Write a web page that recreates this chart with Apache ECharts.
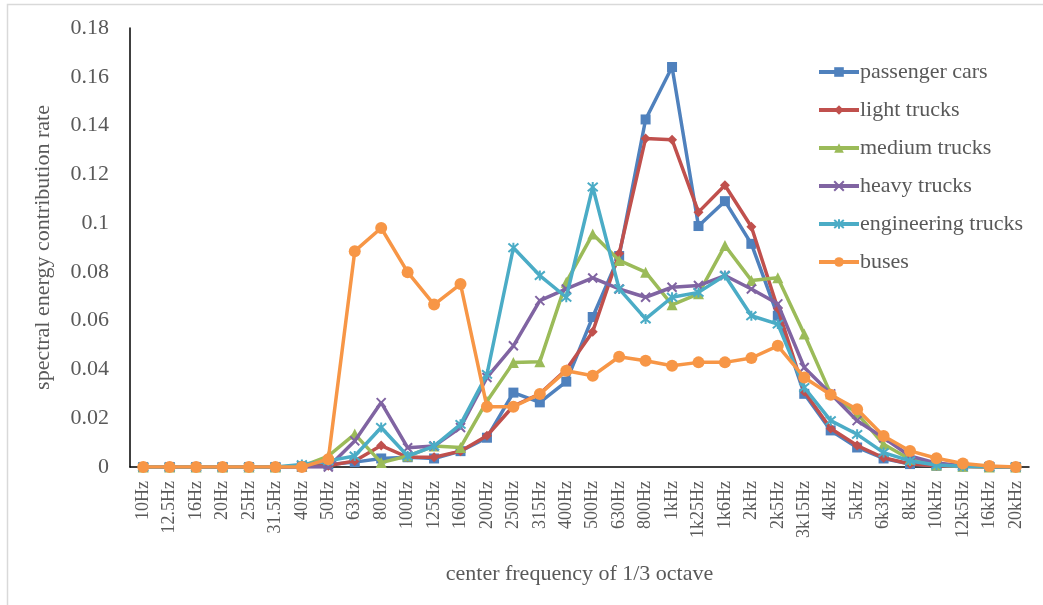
<!DOCTYPE html>
<html>
<head>
<meta charset="utf-8">
<script src="https://cdn.jsdelivr.net/npm/echarts@6/dist/echarts.min.js"></script>
<style>
html,body{margin:0;padding:0;background:#fff;}
#chart{width:1043px;height:605px;}
</style>
</head>
<body>
<div id="chart"></div>
<script>
var categories = ['10Hz','12.5Hz','16Hz','20Hz','25Hz','31.5Hz','40Hz','50Hz','63Hz','80Hz','100Hz','125Hz','160Hz','200Hz','250Hz','315Hz','400Hz','500Hz','630Hz','800Hz','1kHz','1k25Hz','1k6Hz','2kHz','2k5Hz','3k15Hz','4kHz','5kHz','6k3Hz','8kHz','10kHz','12k5Hz','16kHz','20kHz'];

var passengerCars = [0,0,0,0,0,0,0.0003,0.001,0.002,0.0035,0.004,0.0035,0.0065,0.012,0.0305,0.0265,0.035,0.0615,0.0865,0.1425,0.164,0.0988,0.109,0.0915,0.062,0.030,0.015,0.008,0.0035,0.0012,0.0005,0.0002,0,0];
var lightTrucks = [0,0,0,0,0,0,0.0002,0.0005,0.0025,0.0088,0.004,0.004,0.0065,0.0128,0.025,0.030,0.040,0.0555,0.0875,0.1347,0.1342,0.1045,0.1155,0.0985,0.065,0.031,0.0158,0.0088,0.0038,0.0012,0.0005,0.0002,0,0];
var mediumTrucks = [0,0,0,0,0,0,0.0003,0.0045,0.0135,0.0018,0.0045,0.0086,0.008,0.027,0.0428,0.0432,0.0758,0.0955,0.0847,0.0799,0.0665,0.071,0.0908,0.0765,0.0776,0.0545,0.030,0.022,0.0093,0.0032,0.0008,0.0003,0,0];
var heavyTrucks = [0,0,0,0,0,0,0,0,0.0107,0.0264,0.0079,0.0086,0.0162,0.0367,0.0497,0.0682,0.073,0.0775,0.073,0.0696,0.0737,0.0744,0.0785,0.073,0.0669,0.0408,0.030,0.019,0.012,0.0045,0.0016,0.0005,0.0002,0];
var engineeringTrucks = [0,0,0,0,0,0,0.001,0.0025,0.0045,0.0162,0.0045,0.0086,0.0175,0.038,0.0899,0.0785,0.0696,0.1148,0.073,0.0607,0.0696,0.0716,0.0785,0.062,0.0586,0.0326,0.019,0.0134,0.0059,0.0025,0.0008,0.0003,0.0001,0];
var buses = [0,0,0,0,0,0,0,0.0032,0.0885,0.098,0.0799,0.0666,0.075,0.0247,0.0247,0.0299,0.0395,0.0374,0.0452,0.0436,0.0415,0.0429,0.0429,0.0447,0.0497,0.0367,0.0296,0.0237,0.0127,0.0066,0.0036,0.0014,0.0004,0];

var seriesNames = ['passenger cars','light trucks','medium trucks','heavy trucks','engineering trucks','buses'];
var seriesData = [passengerCars, lightTrucks, mediumTrucks, heavyTrucks, engineeringTrucks, buses];
var colors = ['#4F81BD','#C0504D','#9BBB59','#8064A2','#4BACC6','#F79646'];
var symbols = ['rect','diamond','triangle','path://M0,0L10,10M10,0L0,10','path://M0,0L10,10M10,0L0,10M5,-1L5,11','circle'];
var symbolSizes = [10,10,11,9,10,12];

var FONT = '"Liberation Serif","Times New Roman",serif';
var TXT = '#595959';

var series = seriesNames.map(function(name, i){
  var isPath = symbols[i].indexOf('path://') === 0;
  return {
    name: name,
    type: 'line',
    data: seriesData[i],
    symbol: symbols[i],
    symbolSize: symbolSizes[i],
    showAllSymbol: true,
    lineStyle: {color: colors[i], width: 3.5},
    itemStyle: isPath ? {color: colors[i], borderColor: colors[i], borderWidth: 2} : {color: colors[i], borderColor: colors[i], borderWidth: 0},
    emphasis: {disabled: true},
    z: 2 + i
  };
});

var chart = echarts.init(document.getElementById('chart'), null, {renderer: 'canvas'});
chart.setOption({
  animation: false,
  backgroundColor: '#fff',
  color: colors,
  graphic: [{
    type: 'rect',
    shape: {x: 7.5, y: 4.5, width: 1100, height: 700},
    style: {fill: 'none', stroke: '#d9d9d9', lineWidth: 1.5},
    silent: true, z: -1
  }],
  grid: {left: 130, right: 14, top: 28, bottom: 138, containLabel: false},
  legend: {
    orient: 'vertical',
    left: 812,
    top: 56,
    itemWidth: 40,
    itemHeight: 12,
    itemGap: 16,
    data: seriesNames,
    lineStyle: {width: 4},
    textStyle: {fontFamily: FONT, fontSize: 22, color: TXT, padding: [0,0,0,-4]}
  },
  xAxis: {
    type: 'category',
    data: categories,
    boundaryGap: true,
    name: 'center frequency of 1/3 octave',
    nameLocation: 'middle',
    nameGap: 96,
    nameTextStyle: {fontFamily: FONT, fontSize: 22, color: TXT},
    axisLine: {show: true, lineStyle: {color: '#000', width: 1.5}},
    axisTick: {show: false},
    axisLabel: {rotate: 90, interval: 0, margin: 14, fontFamily: FONT, fontSize: 18, color: TXT},
    splitLine: {show: false}
  },
  yAxis: {
    type: 'value',
    min: 0,
    max: 0.18,
    interval: 0.02,
    name: 'spectral energy contribution rate',
    nameLocation: 'middle',
    nameGap: 76,
    nameTextStyle: {fontFamily: FONT, fontSize: 22, color: TXT},
    axisLine: {show: true, lineStyle: {color: '#000', width: 1.5}},
    axisTick: {show: false},
    axisLabel: {margin: 21, fontFamily: FONT, fontSize: 22, color: TXT,
      formatter: function(v){ return String(Math.round(v*100)/100); }},
    splitLine: {show: false}
  },
  series: series
});
</script>
</body>
</html>
